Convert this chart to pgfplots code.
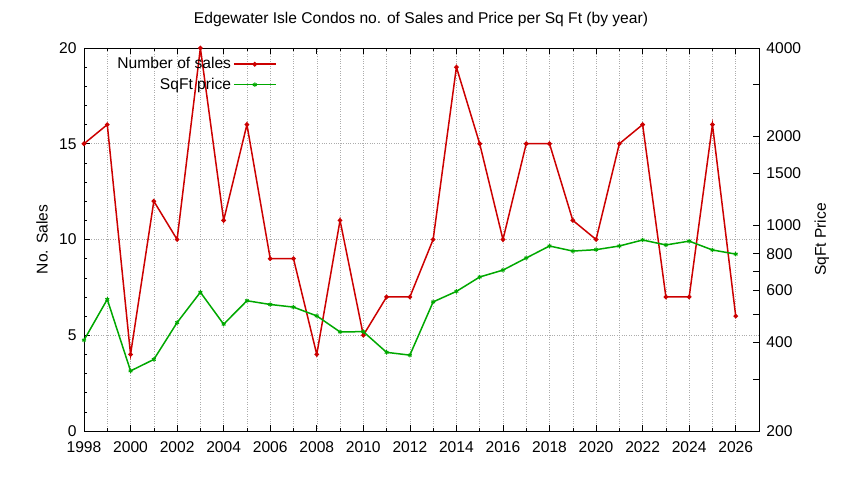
\documentclass[border=0pt]{standalone}
\usepackage{fontspec}
\setmainfont{Liberation Sans}
\usepackage{pgfplots}
\pgfplotsset{compat=1.18}
\definecolor{sred}{RGB}{204,0,0}
\definecolor{sgreen}{RGB}{0,168,0}
\begin{document}
\fontsize{15.6}{18}\selectfont
\begin{tikzpicture}[x=1pt,y=1pt]
\useasboundingbox (0,0) rectangle (844,480);
\node at (421,461) {Edgewater Isle Condos no. of Sales and Price per Sq Ft (by year)};
\pgfplotsset{
  common/.style={
    at={(84pt,49pt)}, anchor=south west, scale only axis,
    width=675pt, height=383pt,
    xmin=1998, xmax=2027,
    /pgf/number format/assume math mode=true,
    /pgf/number format/1000 sep={},
    ticklabel style={font=\fontsize{15.6}{18}\selectfont},
    label style={font=\fontsize{15.6}{18}\selectfont},
    tick align=inside,
    major tick length=6pt, minor tick length=3.5pt,
    every tick/.style={black, line width=0.6pt},
    axis line style={line width=0.8pt},
  }
}
\begin{axis}[common,
  ymin=0, ymax=20,
  xtick={1998,2000,...,2026},
  minor xtick={1999,2001,...,2025},
  ytick={0,5,10,15,20},
  minor ytick={1,2,3,4,6,7,8,9,11,12,13,14,16,17,18,19},
  xtick pos=both, ytick pos=left,
  xticklabel style={yshift=-5pt},
  yticklabel style={xshift=-2pt},
  xmajorgrids, xminorgrids, ymajorgrids,
  major grid style={dotted, gray!65, line width=0.5pt},
  minor grid style={dotted, gray!65, line width=0.5pt},
  ylabel={No. Sales},
  ylabel style={at={(axis description cs:-0.062,0.5)}, anchor=center},
  legend plot pos=right,
  legend cell align=right,
  legend style={draw=none, fill=none, at={(0.29,0.99)}, anchor=north east,
    font=\fontsize{15.6}{18}\selectfont, row sep=0pt, nodes={inner ysep=3.4pt}},
  legend image code/.code={\draw[mark repeat=2,mark phase=2] plot coordinates {(0pt,0pt) (21pt,0pt) (42pt,0pt)};},
]
\addplot[sred, line width=1.5pt, mark=*, mark size=1.5pt] coordinates {
(1998,15) (1999,16) (2000,4) (2001,12) (2002,10) (2003,20) (2004,11) (2005,16)
(2006,9) (2007,9) (2008,4) (2009,11) (2010,5) (2011,7) (2012,7) (2013,10)
(2014,19) (2015,15) (2016,10) (2017,15) (2018,15) (2019,11) (2020,10) (2021,15)
(2022,16) (2023,7) (2024,7) (2025,16) (2026,6)};
\addlegendentry{Number of sales}
\addlegendimage{sgreen, line width=1.5pt, mark=asterisk, mark size=2.2pt, mark options={line width=1pt}}
\addlegendentry{SqFt price}
\end{axis}
\begin{axis}[common,
  ymode=log, ymin=200, ymax=4000,
  axis x line=none, axis y line*=right,
  ytick={200,300,400,500,600,700,800,1000,1500,2000,3000,4000},
  yticklabels={200,,400,,600,,800,1000,1500,2000,,4000},
  minor ytick={},
  yticklabel style={xshift=2pt},
  ylabel={SqFt Price},
  ylabel style={at={(axis description cs:1.093,0.5)}, anchor=center},
]
\addplot[sgreen, line width=1.5pt, mark=asterisk, mark size=2.2pt, mark options={line width=1pt}] coordinates {
(1998,407) (1999,560) (2000,320) (2001,350) (2002,467) (2003,592) (2004,461) (2005,554)
(2006,538) (2007,527) (2008,492) (2009,434) (2010,435) (2011,370) (2012,362) (2013,549)
(2014,596) (2015,667) (2016,704) (2017,774) (2018,850) (2019,817) (2020,826) (2021,850)
(2022,891) (2023,857) (2024,883) (2025,824) (2026,798)};
\end{axis}
\end{tikzpicture}
\end{document}
